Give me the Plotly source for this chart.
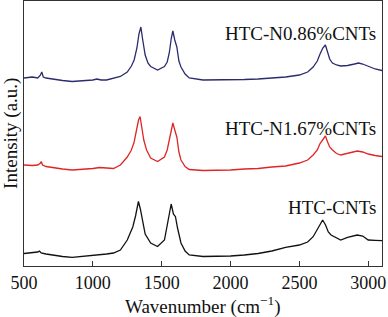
import plotly.graph_objects as go

# Raman spectra (intensity in arbitrary units, curves offset)
wn_blue = [500,560,600,620,629,640,660,700,780,850,920,1000,1030,1060,1100,1150,1200,1250,1280,1300,1320,1335,1349,1360,1380,1400,1420,1470,1520,1540,1555,1570,1581,1595,1610,1625,1640,1670,1700,1800,1900,2000,2100,2200,2300,2400,2500,2560,2600,2630,2650,2670,2689,2705,2720,2740,2770,2800,2850,2900,2930,2960,3000,3050,3100]
int_blue = [188,189,188,191,194,189,188,187,185.5,184.5,185,186,187,186,186,187.5,189.5,194,200,206,218,232,239,228,211,203,199.5,196,199.5,204,213,228,235,226,219,205,199,192,188,186,186,186,186.5,187,188,189,191,194,199,205,212,218,221,214,207,203,201,200,200.5,202,203,202,199.5,197,195.5]

wn_red = [500,560,600,620,625,635,660,700,780,850,920,1000,1050,1100,1150,1200,1250,1280,1300,1320,1332,1343,1355,1370,1390,1420,1470,1520,1540,1555,1570,1581,1595,1610,1625,1640,1670,1700,1800,1900,2000,2100,2200,2300,2400,2500,2560,2600,2630,2650,2670,2689,2705,2720,2740,2770,2800,2850,2900,2920,2960,3000,3050,3100]
int_red = [101,100.5,101,103,104.5,101,99.5,98.5,97,96,96.5,97.5,98.5,98,97.5,101,109,116,124,138,146,149.5,140,126,116,108,104.5,109,116,126,139,143,136,129,114,106,99.5,96.5,95.5,95.5,96,97,97.5,99,100,103,106,111,116,122.5,127,130,124,119,116,112.5,111,112.5,114.5,115,114,112,110.5,109.5]

wn_black = [500,560,600,612,625,660,700,780,850,920,1000,1100,1150,1200,1250,1270,1290,1310,1322,1331,1345,1360,1380,1420,1470,1520,1545,1560,1569,1585,1600,1615,1640,1670,1700,1800,1900,2000,2100,2200,2300,2400,2500,2560,2600,2630,2650,2669,2690,2710,2730,2770,2800,2850,2900,2920,2960,3000,3050,3100]
int_black = [12.5,13,14,15,13,12,11,9.5,8.7,9.5,11,12,13,16,26,32,39,50,60,64.5,57,45,32,23,19.5,26,46,57,62,52,49.3,38,23,15,11,9.5,9.5,10,11,12.5,15,18.7,21,24,29.3,36,41,46,41,34,31,28,26,28.7,30.5,31,30,26,25.7,25.3]

labels = ["HTC-N0.86%CNTs", "HTC-N1.67%CNTs", "HTC-CNTs"]
label_x = [3070, 3070, 3070]
label_y = [233, 138, 59]

x_ticks = [500, 1000, 1500, 2000, 2500, 3000]
x_title = "Wavenumber (cm<sup>−1</sup>)"
y_title = "Intensity (a.u.)"

fig = go.Figure()
fig.add_trace(go.Scatter(x=wn_blue, y=int_blue, mode="lines",
                         line=dict(color="#2b2b6e", width=1.3), showlegend=False))
fig.add_trace(go.Scatter(x=wn_red, y=int_red, mode="lines",
                         line=dict(color="#e02525", width=1.3), showlegend=False))
fig.add_trace(go.Scatter(x=wn_black, y=int_black, mode="lines",
                         line=dict(color="#111111", width=1.3), showlegend=False))

for t, xx, yy in zip(labels, label_x, label_y):
    fig.add_annotation(x=xx, y=yy, text=t, showarrow=False, xanchor="right",
                       yanchor="middle", font=dict(family="Liberation Serif", size=19, color="#111"))

# axis titles placed as paper-anchored annotations
fig.add_annotation(xref="paper", yref="paper", x=0.5, y=-0.148, text=x_title,
                   showarrow=False, xanchor="center", yanchor="middle",
                   font=dict(family="Liberation Serif", size=19, color="#111"))
fig.add_annotation(xref="paper", yref="paper", x=-0.038, y=0.5, text=y_title,
                   textangle=-90, showarrow=False, xanchor="center", yanchor="middle",
                   font=dict(family="Liberation Serif", size=19, color="#111"))

fig.update_layout(
    width=388, height=317,
    margin=dict(l=24, r=6, t=1, b=51),
    paper_bgcolor="white", plot_bgcolor="white",
    font=dict(family="Liberation Serif", size=18, color="#111"),
    xaxis=dict(range=[500, 3100], tickvals=x_ticks, ticktext=[str(v) for v in x_ticks],
               ticks="inside", ticklen=5, tickwidth=1, tickcolor="#333",
               tickfont=dict(size=18),
               showline=True, linecolor="#333", linewidth=1.2, mirror=True,
               showgrid=False, zeroline=False, automargin=False),
    yaxis=dict(range=[0, 265], showticklabels=False, ticks="",
               showline=True, linecolor="#333", linewidth=1.2, mirror=True,
               showgrid=False, zeroline=False, automargin=False),
)

fig.write_html("out.html", config={"displayModeBar": False},
               post_script="document.body.style.margin='0';document.body.style.padding='0';document.body.style.overflow='hidden';")
